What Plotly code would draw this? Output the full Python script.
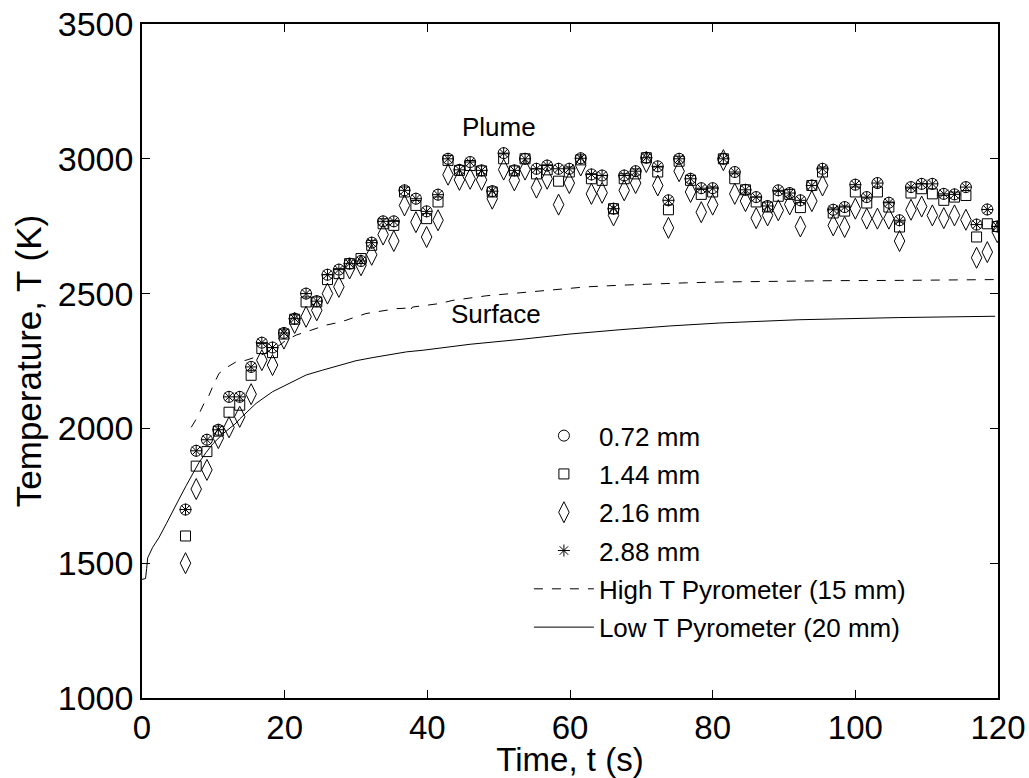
import plotly.graph_objects as go

# ---- data ----
t_plume = [6.1, 7.6, 9.1, 10.7, 12.2, 13.7, 15.3, 16.8, 18.3, 19.9, 21.4, 23.0,
           24.5, 26.0, 27.6, 29.1, 30.7, 32.2, 33.8, 35.3, 36.8, 38.4, 39.9, 41.5,
           42.9, 44.5, 46.0, 47.6, 49.1, 50.7, 52.2, 53.7, 55.3, 56.8, 58.4, 59.9,
           61.5, 63.0, 64.5, 66.1, 67.6, 69.2, 70.7, 72.3, 73.8, 75.3, 76.9, 78.4,
           80.0, 81.5, 83.1, 84.6, 86.1, 87.7, 89.2, 90.8, 92.3, 93.9, 95.4, 96.9,
           98.5, 100.0, 101.6, 103.1, 104.7, 106.2, 107.8, 109.3, 110.8, 112.4, 113.9, 115.5,
           117.0, 118.5, 119.9]

T_072 = [1699, 1917, 1958, 1995, 2117, 2117, 2228, 2318, 2300, 2354, 2407, 2500,
         2472, 2570, 2589, 2611, 2621, 2689, 2768, 2768, 2883, 2852, 2805, 2867,
         3000, 2959, 2988, 2957, 2880, 3021, 2957, 3000, 2963, 2975, 2963, 2963,
         3002, 2942, 2938, 2815, 2938, 2954, 3004, 2972, 2846, 3000, 2926, 2891,
         2891, 3000, 2951, 2885, 2858, 2825, 2883, 2873, 2846, 2901, 2963, 2811,
         2821, 2904, 2858, 2910, 2837, 2772, 2895, 2907, 2907, 2870, 2868, 2895,
         2756, 2812, 2749]

T_144 = [1601, 1860, 1914, 1990, 2060, 2086, 2197, 2296, 2281, 2350, 2405, 2469,
         2469, 2552, 2574, 2611, 2630, 2679, 2759, 2753, 2877, 2827, 2778, 2840,
         2994, 2957, 2975, 2955, 2877, 3000, 2955, 3000, 2944, 2959, 2917, 2951,
         2996, 2926, 2920, 2815, 2926, 2944, 3004, 2951, 2811, 2991, 2920, 2868,
         2877, 3000, 2926, 2885, 2840, 2821, 2861, 2868, 2819, 2901, 2951, 2799,
         2806, 2877, 2836, 2877, 2821, 2747, 2873, 2889, 2870, 2846, 2858, 2864,
         2710, 2759, 2749]

T_216 = [1500, 1775, 1846, 1964, 2004, 2043, 2127, 2253, 2235, 2333, 2391, 2414,
         2438, 2500, 2525, 2593, 2605, 2644, 2719, 2695, 2827, 2765, 2710, 2772,
         2941, 2922, 2926, 2922, 2852, 2960, 2920, 2960, 2893, 2926, 2830, 2910,
         2975, 2870, 2874, 2790, 2883, 2910, 2988, 2901, 2744, 2954, 2877, 2802,
         2830, 2995, 2870, 2843, 2780, 2790, 2809, 2831, 2749, 2843, 2901, 2753,
         2747, 2815, 2778, 2778, 2778, 2695, 2811, 2823, 2790, 2780, 2790, 2774,
         2633, 2654, 2728]

T_288 = [1699, 1917, 1958, 1995, 2117, 2117, 2228, 2318, 2300, 2354, 2407, 2500,
         2472, 2570, 2589, 2611, 2621, 2689, 2768, 2768, 2883, 2852, 2805, 2867,
         3000, 2959, 2988, 2957, 2880, 3021, 2957, 3000, 2963, 2975, 2963, 2963,
         3002, 2942, 2938, 2815, 2938, 2954, 3004, 2972, 2846, 3000, 2926, 2891,
         2891, 3000, 2951, 2885, 2858, 2825, 2883, 2873, 2846, 2901, 2963, 2811,
         2821, 2904, 2858, 2910, 2837, 2772, 2895, 2907, 2907, 2870, 2868, 2895,
         2756, 2812, 2749]

t_high = [6.9, 7.1, 7.8, 8.7, 9.4, 10.1, 10.8, 12.0, 13.2, 14.6, 16.0, 17.4,
          19.3, 20.2, 21.6, 23.0, 24.4, 25.8, 27.2, 28.6, 30.0, 31.4, 32.8, 34.2,
          35.6, 37.0, 37.5, 37.9, 39.8, 41.7, 43.6, 48.3, 53.0, 57.6, 62.3, 67.0,
          71.7, 76.3, 81.0, 87.6, 96.9, 106.3, 115.6, 119.4]
T_high = [2004, 2012, 2043, 2093, 2123, 2167, 2204, 2228, 2247, 2253, 2265, 2280,
          2309, 2327, 2346, 2358, 2370, 2383, 2391, 2401, 2414, 2426, 2432, 2438,
          2444, 2446, 2432, 2450, 2457, 2463, 2475, 2492, 2503, 2515, 2525, 2531,
          2536, 2540, 2543, 2546, 2548, 2549, 2550, 2552]

t_low = [0.0, 0.5, 0.65, 0.8, 1.5, 2.4, 3.4, 4.3, 5.2, 6.2, 7.1, 8.0, 9.0, 9.9,
         11.3, 13.2, 13.7, 16.0, 18.3, 20.7, 23.0, 25.3, 27.7, 30.0, 32.4, 34.7,
         37.1, 39.4, 46.0, 53.0, 60.0, 67.0, 74.0, 81.0, 92.0, 106.0, 119.6]
T_low = [1440, 1443, 1480, 1520, 1559, 1596, 1646, 1695, 1738, 1788, 1831, 1874,
         1911, 1942, 1979, 2020, 2035, 2093, 2136, 2169, 2198, 2216, 2235, 2251,
         2263, 2274, 2284, 2290, 2312, 2330, 2350, 2366, 2380, 2391, 2403, 2411, 2416]

x_ticks = [0, 20, 40, 60, 80, 100, 120]
y_ticks = [1000, 1500, 2000, 2500, 3000, 3500]

FONT = "Liberation Sans, Arial, Helvetica, sans-serif"
BLACK = "#000000"

fig = go.Figure()

fig.add_trace(go.Scatter(x=t_high, y=T_high, mode="lines", name="High T Pyrometer (15 mm)",
                         line=dict(color=BLACK, width=1, dash="dash"),
                         legendgroup="e", legendrank=5))
fig.add_trace(go.Scatter(x=t_low, y=T_low, mode="lines", name="Low T Pyrometer (20 mm)",
                         line=dict(color=BLACK, width=1),
                         legendgroup="f", legendrank=6))

markers = [
    ("0.72 mm", T_072, "circle-open", 11, "a", 1),
    ("1.44 mm", T_144, "square-open", 10, "b", 2),
    ("2.16 mm", T_216, "diamond-tall-open", 15, "c", 3),
    ("2.88 mm", T_288, "asterisk-open", 10, "d", 4),
]
for name, vals, sym, size, grp, rank in markers:
    fig.add_trace(go.Scatter(x=t_plume, y=vals, mode="markers", name=name,
                             marker=dict(symbol=sym, size=size, color=BLACK,
                                         line=dict(color=BLACK, width=1)),
                             legendgroup=grp, legendrank=rank))

fig.add_annotation(x=50.0, y=3117, text="Plume", showarrow=False,
                   font=dict(family=FONT, size=26, color=BLACK))
fig.add_annotation(x=49.6, y=2425, text="Surface", showarrow=False,
                   font=dict(family=FONT, size=26, color=BLACK))

axis_common = dict(showline=True, linecolor=BLACK, linewidth=1.5, mirror="ticks",
                   ticks="inside", ticklen=8, tickcolor=BLACK, tickwidth=1,
                   showgrid=False, zeroline=False, ticklabeloverflow="allow")

fig.update_xaxes(range=[0, 120], tickvals=x_ticks, ticktext=[str(v) for v in x_ticks],
                 tickfont=dict(family=FONT, size=33, color=BLACK),
                 title=dict(text="Time, t (s)", font=dict(family=FONT, size=33, color=BLACK),
                            standoff=16),
                 **axis_common)
fig.update_yaxes(range=[1000, 3500], tickvals=y_ticks, ticktext=[str(v) for v in y_ticks],
                 tickfont=dict(family=FONT, size=34, color=BLACK),
                 title=dict(text="Temperature, T (K)", font=dict(family=FONT, size=35, color=BLACK),
                            standoff=6),
                 **axis_common)

fig.update_layout(
    width=1029, height=778,
    margin=dict(l=142, r=31, t=24, b=80, autoexpand=False),
    paper_bgcolor="white", plot_bgcolor="white",
    font=dict(family=FONT, color=BLACK),
    legend=dict(x=0.452, y=0.424, xanchor="left", yanchor="top",
                bgcolor="rgba(0,0,0,0)", borderwidth=0,
                font=dict(family=FONT, size=26, color=BLACK),
                tracegroupgap=1.5, itemwidth=60, traceorder="grouped"),
)

# remove the default 8 px page margin so the figure fills the window exactly
fig.write_html("out.html", config={"displayModeBar": False},
               post_script="document.body.style.margin='0';")
